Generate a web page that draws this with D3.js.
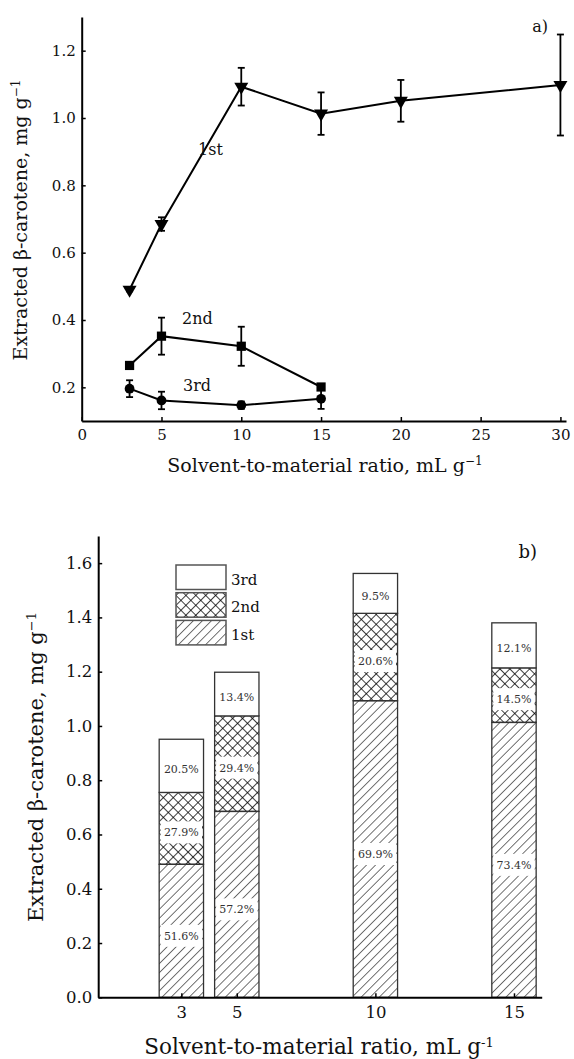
<!DOCTYPE html>
<html>
<head>
<meta charset="UTF-8">
<script src="https://d3js.org/d3.v7.min.js"></script>
<title>beta-carotene extraction</title>
<style>
  body { margin:0; background:#fff; }
  text { font-family:'DejaVu Serif', serif; fill:#111; }
  .axis .domain { stroke:#000; stroke-width:2; }
  .axis .tick line { stroke:#000; stroke-width:1.5; }
</style>
</head>
<body>
<div id="container"></div>
<script>
// solvent-to-material ratios
var ratio = [3, 5, 10, 15, 20, 30];
var ratioBar = [3, 5, 10, 15];
// extracted beta-carotene per extraction cycle, mg/g
var first = [0.49, 0.685, 1.093, 1.013, 1.051, 1.098];
var firstErr = [0.005, 0.02, 0.056, 0.063, 0.062, 0.15];
var second = [0.265, 0.352, 0.322, 0.201];
var secondErr = [0, 0.055, 0.058, 0];
var third = [0.196, 0.161, 0.147, 0.166];
var thirdErr = [0.025, 0.026, 0.011, 0.03];
// percentage labels on the stacked bars
var pct1 = ["51.6%", "57.2%", "69.9%", "73.4%"];
var pct2 = ["27.9%", "29.4%", "20.6%", "14.5%"];
var pct3 = ["20.5%", "13.4%", "9.5%", "12.1%"];
var yTicksA = [0.2, 0.4, 0.6, 0.8, 1.0, 1.2];
var xTicksA = [0, 5, 10, 15, 20, 25, 30];
var yTicksB = [0, 0.2, 0.4, 0.6, 0.8, 1.0, 1.2, 1.4, 1.6];

var width = 574, height = 1059;
var svg = d3.select('#container').append('svg')
  .attr('width', width).attr('height', height);

// hatch patterns
var defs = svg.append('defs');
defs.append('pattern').attr('id', 'diag')
  .attr('patternUnits', 'userSpaceOnUse')
  .attr('width', 6.4).attr('height', 6.4)
  .attr('patternTransform', 'rotate(45)')
  .append('line').attr('x1', 0).attr('y1', 0).attr('x2', 0).attr('y2', 6.4)
  .attr('stroke', '#000').attr('stroke-width', 1.1);
var cross = defs.append('pattern').attr('id', 'cross')
  .attr('patternUnits', 'userSpaceOnUse')
  .attr('width', 7).attr('height', 7)
  .attr('patternTransform', 'rotate(45)');
cross.append('path').attr('d', 'M0,0H7M0,0V7')
  .attr('stroke', '#000').attr('stroke-width', 1.5).attr('fill', 'none');

// ---------- a) line chart ----------
var xA = d3.scaleLinear().domain([0, 30.35]).range([81.7, 566]);
var yA = d3.scaleLinear().domain([0.1, 1.3]).range([421, 17]);

svg.append('g').attr('class', 'axis')
  .attr('transform', 'translate(0,' + yA(0.1) + ')')
  .call(d3.axisBottom(xA).tickValues(xTicksA).tickFormat(d3.format('d'))
    .tickSizeInner(-4).tickSizeOuter(0).tickPadding(8))
  .selectAll('text').style('font-size', '15px').style('font-family', 'DejaVu Serif');

svg.append('g').attr('class', 'axis')
  .attr('transform', 'translate(' + xA(0) + ',0)')
  .call(d3.axisLeft(yA).tickValues(yTicksA).tickFormat(d3.format('.1f'))
    .tickSizeInner(-4).tickSizeOuter(0).tickPadding(6))
  .selectAll('text').style('font-size', '15px').style('font-family', 'DejaVu Serif');

function drawSeries(xs, ys, errs, symbol, rotate) {
  var pts = xs.map(function(x, i) { return [x, ys[i], errs[i]]; });
  svg.append('path')
    .attr('d', d3.line().x(function(d) { return xA(d[0]); }).y(function(d) { return yA(d[1]); })(pts))
    .attr('fill', 'none').attr('stroke', '#000').attr('stroke-width', 2);
  var eb = svg.append('g').attr('stroke', '#000').attr('stroke-width', 1.8);
  pts.forEach(function(d) {
    if (!d[2]) return;
    var cx = xA(d[0]), top = yA(d[1] + d[2]), bot = yA(d[1] - d[2]);
    eb.append('line').attr('x1', cx).attr('x2', cx).attr('y1', top).attr('y2', bot);
    eb.append('line').attr('x1', cx - 3.5).attr('x2', cx + 3.5).attr('y1', top).attr('y2', top);
    eb.append('line').attr('x1', cx - 3.5).attr('x2', cx + 3.5).attr('y1', bot).attr('y2', bot);
  });
  svg.append('g').selectAll('path').data(pts).enter().append('path')
    .attr('d', d3.symbol().type(symbol).size(symbol === d3.symbolCircle ? 75 : 85))
    .attr('transform', function(d) {
      return 'translate(' + xA(d[0]) + ',' + yA(d[1]) + ')' + (rotate ? ' rotate(180)' : '');
    })
    .attr('fill', '#000');
}
drawSeries(ratio, first, firstErr, d3.symbolTriangle, true);
drawSeries(ratioBar, second, secondErr, d3.symbolSquare, false);
drawSeries(ratioBar, third, thirdErr, d3.symbolCircle, false);

svg.append('text').attr('x', 198).attr('y', 155).style('font-size', '16px').text('1st');
svg.append('text').attr('x', 182).attr('y', 324).style('font-size', '16px').text('2nd');
svg.append('text').attr('x', 183).attr('y', 391).style('font-size', '16px').text('3rd');
svg.append('text').attr('x', 548).attr('y', 32).attr('text-anchor', 'end').style('font-size', '16px').text('a)');

var xlabA = svg.append('text').attr('x', 325).attr('y', 472).attr('text-anchor', 'middle')
  .style('font-size', '19px').text('Solvent-to-material ratio, mL g');
xlabA.append('tspan').attr('dy', '-0.55em').style('font-size', '12px').text('\u22121');

var ylabA = svg.append('text').attr('transform', 'translate(27,220) rotate(-90)')
  .attr('text-anchor', 'middle').style('font-size', '19px').text('Extracted \u03b2-carotene, mg g');
ylabA.append('tspan').attr('dy', '-0.55em').style('font-size', '12px').text('\u22121');

// ---------- b) stacked bar chart ----------
var xB = d3.scaleLinear().domain([0, 16]).range([98.2, 541.7]);
var yB = d3.scaleLinear().domain([0, 1.7]).range([997.3, 536]);
var barW = xB(1.6) - xB(0);

var stacks = ratioBar.map(function(r, i) {
  return [
    { r: r, y0: 0, y1: first[i], fill: 'url(#diag)', pct: pct1[i], off: 5 },
    { r: r, y0: first[i], y1: first[i] + second[i], fill: 'url(#cross)', pct: pct2[i], off: 4 },
    { r: r, y0: first[i] + second[i], y1: first[i] + second[i] + third[i], fill: '#fff', pct: pct3[i], off: 3 }
  ];
});
var segs = d3.merge(stacks);

var bars = svg.append('g');
bars.selectAll('rect').data(segs).enter().append('rect')
  .attr('x', function(d) { return xB(d.r) - barW / 2; })
  .attr('y', function(d) { return yB(d.y1); })
  .attr('width', barW)
  .attr('height', function(d) { return yB(d.y0) - yB(d.y1); })
  .attr('fill', function(d) { return d.fill; })
  .attr('stroke', '#333').attr('stroke-width', 1.3);

var labs = svg.append('g');
segs.forEach(function(d) {
  var cy = (yB(d.y0) + yB(d.y1)) / 2 + d.off;
  if (d.fill !== '#fff') {
    labs.append('rect').attr('x', xB(d.r) - barW / 2 + 1.5).attr('y', cy - 11)
      .attr('width', barW - 3).attr('height', 22).attr('fill', '#fff');
  }
  labs.append('text').attr('x', xB(d.r)).attr('y', cy + 4).attr('text-anchor', 'middle')
    .style('font-size', '11px').style('fill', '#333').text(d.pct);
});

svg.append('g').attr('class', 'axis')
  .attr('transform', 'translate(0,' + yB(0) + ')')
  .call(d3.axisBottom(xB).tickValues(ratioBar).tickFormat(d3.format('d'))
    .tickSizeInner(-4).tickSizeOuter(0).tickPadding(9))
  .selectAll('text').style('font-size', '16.5px').style('font-family', 'DejaVu Serif');

svg.append('g').attr('class', 'axis')
  .attr('transform', 'translate(' + xB(0) + ',0)')
  .call(d3.axisLeft(yB).tickValues(yTicksB).tickFormat(d3.format('.1f'))
    .tickSizeInner(-4).tickSizeOuter(0).tickPadding(6))
  .selectAll('text').style('font-size', '16.5px').style('font-family', 'DejaVu Serif');

// legend
var legend = [
  { name: '3rd', fill: '#fff' },
  { name: '2nd', fill: 'url(#cross)' },
  { name: '1st', fill: 'url(#diag)' }
];
var lg = svg.append('g').attr('transform', 'translate(176,565)');
legend.forEach(function(d, i) {
  lg.append('rect').attr('x', 0).attr('y', i * 27.7).attr('width', 50).attr('height', 24.5)
    .attr('fill', d.fill).attr('stroke', '#555').attr('stroke-width', 1.5);
  lg.append('text').attr('x', 55).attr('y', i * 27.7 + 19.5).style('font-size', '15px').text(d.name);
});

svg.append('text').attr('x', 537).attr('y', 558).attr('text-anchor', 'end').style('font-size', '18px').text('b)');

var xlabB = svg.append('text').attr('x', 319).attr('y', 1054).attr('text-anchor', 'middle')
  .style('font-size', '21.5px').text('Solvent-to-material ratio, mL g');
xlabB.append('tspan').attr('dy', '-0.55em').style('font-size', '13px').text('-1');

var ylabB = svg.append('text').attr('transform', 'translate(43,767) rotate(-90)')
  .attr('text-anchor', 'middle').style('font-size', '21px').text('Extracted \u03b2-carotene, mg g');
ylabB.append('tspan').attr('dy', '-0.55em').style('font-size', '13px').text('\u22121');
</script>
</body>
</html>
